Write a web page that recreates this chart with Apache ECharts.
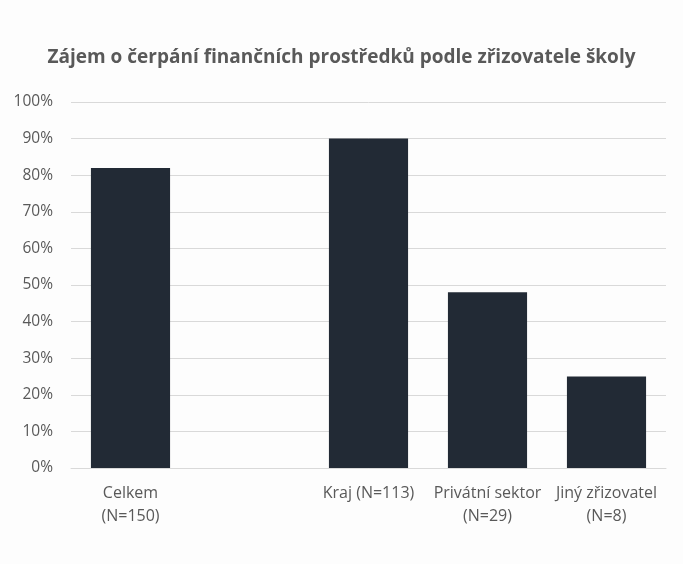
<!DOCTYPE html>
<html><head><meta charset="utf-8">
<script src="https://cdn.jsdelivr.net/npm/echarts@6/dist/echarts.min.js"></script>
<style>html,body{margin:0;padding:0;background:#fdfdfd}#c{width:683px;height:564px}</style>
</head><body><div id="c"></div>
<script>
const categories = ["Celkem\n(N=150)", "", "Kraj (N=113)", "Privátní sektor\n(N=29)", "Jiný zřizovatel\n(N=8)"];
const values = [82, null, 90, 48, 25];
const yTicks = [0, 10, 20, 30, 40, 50, 60, 70, 80, 90, 100];
const titleText = "Zájem o čerpání finančních prostředků podle zřizovatele školy";

const chart = echarts.init(document.getElementById('c'), null, {renderer: 'canvas'});
chart.setOption({
  backgroundColor: '#fdfdfd',
  animation: false,
  title: {
    text: titleText, left: 'center', top: 43,
    textStyle: {fontFamily: 'Open Sans', fontWeight: 'bold', fontSize: 19, color: '#595959'}
  },
  grid: {left: 71, right: 17, top: 102, bottom: 96},
  xAxis: {
    type: 'category', data: categories,
    axisLine: {lineStyle: {color: '#d9d9d9'}},
    axisTick: {show: false},
    axisLabel: {color: '#595959', fontFamily: 'Open Sans', fontSize: 16, lineHeight: 23, margin: 14, interval: 0}
  },
  yAxis: {
    type: 'value', min: yTicks[0], max: yTicks[yTicks.length-1], interval: 10,
    axisLine: {show: false}, axisTick: {show: false},
    splitLine: {lineStyle: {color: '#d9d9d9'}},
    axisLabel: {color: '#595959', fontFamily: 'Open Sans', fontSize: 15.5, margin: 18, formatter: v => v + '%'}
  },
  series: [{
    type: 'bar', data: values, barWidth: '66.5%',
    itemStyle: {color: '#222a35'}
  }]
});
</script></body></html>
